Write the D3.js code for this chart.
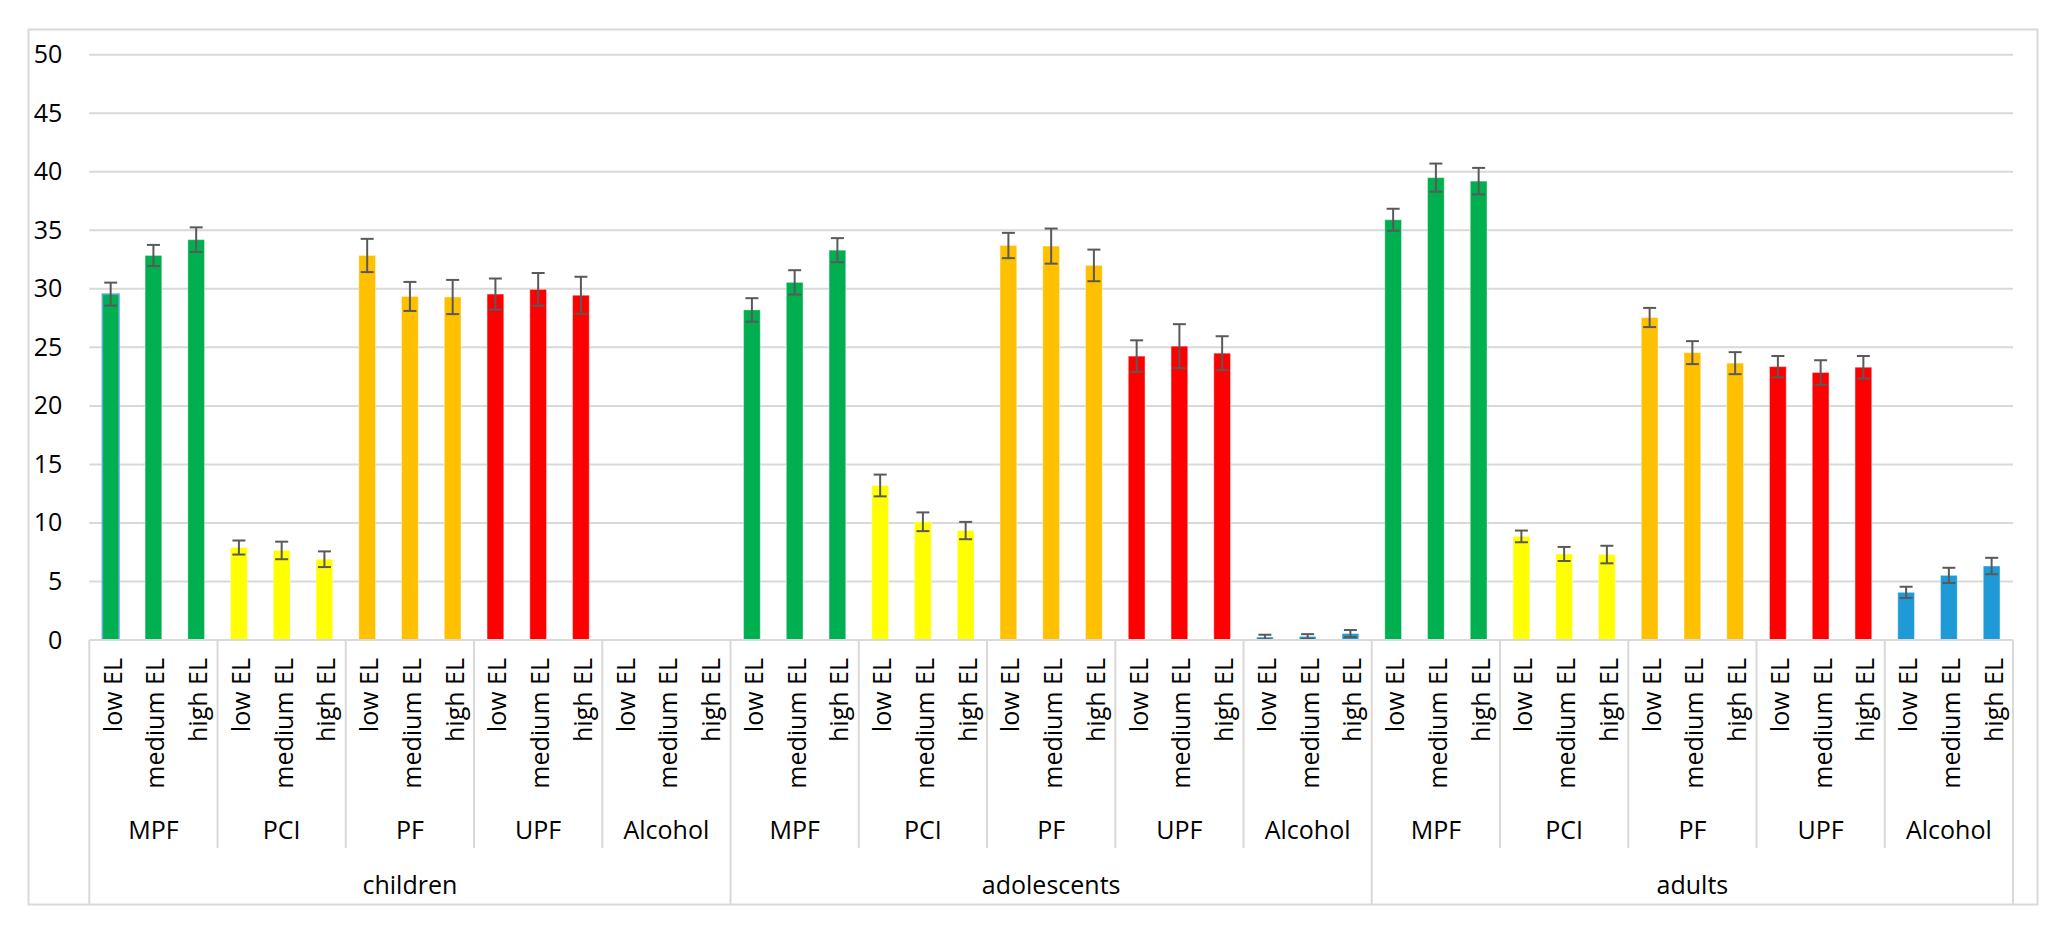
<!DOCTYPE html>
<html>
<head>
<meta charset="utf-8">
<script src="https://cdn.jsdelivr.net/npm/d3@7"></script>
<style>
  html, body { margin: 0; padding: 0; background: #fff; }
  svg text { font-family: 'Open Sans', Lato, sans-serif; fill: #000; }
</style>
</head>
<body>
<svg id="chart" width="2067" height="930"></svg>
<script>
// chart data
const groups = ['children', 'adolescents', 'adults']
const foods = ['MPF', 'PCI', 'PF', 'UPF', 'Alcohol']
const levels = ['low EL', 'medium EL', 'high EL']
const yTicks = [0, 5, 10, 15, 20, 25, 30, 35, 40, 45, 50]

// means, in food order, 3 levels each
const childrenMean = [29.55, 32.85, 34.2, 7.9, 7.65, 6.9, 32.85, 29.35, 29.3, 29.55, 29.95, 29.45, 0, 0, 0]
const childrenErr = [0.98, 0.9, 1.05, 0.6, 0.75, 0.67, 1.42, 1.24, 1.46, 1.33, 1.4, 1.58, 0, 0, 0]
const adolescentsMean = [28.2, 30.55, 33.3, 13.2, 10.1, 9.35, 33.7, 33.65, 32.0, 24.25, 25.1, 24.5, 0.25, 0.3, 0.55]
const adolescentsErr = [1.0, 1.04, 1.03, 0.93, 0.8, 0.74, 1.08, 1.5, 1.35, 1.35, 1.88, 1.45, 0.2, 0.2, 0.3]
const adultsMean = [35.9, 39.5, 39.2, 8.85, 7.35, 7.3, 27.55, 24.55, 23.65, 23.35, 22.85, 23.3, 4.07, 5.52, 6.32]
const adultsErr = [0.94, 1.2, 1.13, 0.5, 0.6, 0.75, 0.82, 0.98, 0.94, 0.91, 1.05, 0.96, 0.48, 0.65, 0.7]

const foodColors = ['#00B050', '#FFFF00', '#FFC000', '#FF0000', '#1E9BD7']

const meansByGroup = [childrenMean, adolescentsMean, adultsMean]
const errByGroup = [childrenErr, adolescentsErr, adultsErr]

const rows = []
groups.forEach((g, gi) => {
  foods.forEach((f, fi) => {
    levels.forEach((l, li) => {
      const k = fi * 3 + li
      rows.push({
        key: g + '|' + f + '|' + l,
        group: g,
        food: f,
        level: l,
        mean: meansByGroup[gi][k],
        err: errByGroup[gi][k],
      })
    })
  })
})

const left = 89.3
const right = 2013
const axisY = 640
const bottom = 904
const fontSize = 25

const svg = d3.select('#chart')

// outer frame
svg.append('rect')
  .attr('x', 28.5).attr('y', 29.5)
  .attr('width', 2009).attr('height', 875)
  .attr('fill', '#fff')
  .attr('stroke', '#D9D9D9')
  .attr('stroke-width', 2)

const x = d3.scaleBand()
  .domain(rows.map((d) => d.key))
  .range([left, right])
  .paddingInner(0.61)
  .paddingOuter(0.305)

const y = d3.scaleLinear().domain([0, 50]).range([axisY, 54.7])

const color = d3.scaleOrdinal().domain(foods).range(foodColors)

// gridlines
svg.append('g')
  .selectAll('line')
  .data(yTicks.filter((t) => t > 0))
  .enter()
  .append('line')
  .attr('x1', left)
  .attr('x2', right)
  .attr('y1', (d) => y(d))
  .attr('y2', (d) => y(d))
  .attr('stroke', '#D9D9D9')
  .attr('stroke-width', 2)

// y axis labels
const yAxis = d3.axisLeft(y).tickValues(yTicks).tickSize(0).tickPadding(27)
const yg = svg.append('g').attr('transform', `translate(${left},0)`).call(yAxis)
yg.select('.domain').remove()
yg.selectAll('text')
  .attr('font-size', fontSize)
  .attr('font-family', "'Open Sans', Lato, sans-serif")
  .attr('fill', '#000')

// bars
const step = x.step()
svg.append('g')
  .selectAll('rect')
  .data(rows)
  .enter()
  .append('rect')
  .attr('x', (d) => x(d.key))
  .attr('width', x.bandwidth())
  .attr('y', (d) => y(d.mean))
  .attr('height', (d) => y(0) - y(d.mean))
  .attr('fill', (d) => color(d.food))
  .attr('stroke', (d, i) => (i === 0 ? '#5DA9E0' : 'rgba(255,255,255,0.35)'))
  .attr('stroke-width', (d, i) => (i === 0 ? 1.5 : 1))

// error bars
const eb = svg.append('g')
  .selectAll('g')
  .data(rows.filter((d) => d.err > 0))
  .enter()
  .append('g')
  .attr('stroke', '#595959')
  .attr('stroke-width', 2)
eb.append('line')
  .attr('x1', (d) => x(d.key) + x.bandwidth() / 2)
  .attr('x2', (d) => x(d.key) + x.bandwidth() / 2)
  .attr('y1', (d) => y(d.mean + d.err))
  .attr('y2', (d) => y(d.mean - d.err))
eb.selectAll('.cap')
  .data((d) => [
    { c: x(d.key) + x.bandwidth() / 2, v: d.mean + d.err },
    { c: x(d.key) + x.bandwidth() / 2, v: d.mean - d.err },
  ])
  .enter()
  .append('line')
  .attr('class', 'cap')
  .attr('x1', (d) => d.c - 6.5)
  .attr('x2', (d) => d.c + 6.5)
  .attr('y1', (d) => y(d.v))
  .attr('y2', (d) => y(d.v))

// category axis line
svg.append('line')
  .attr('x1', left).attr('x2', right)
  .attr('y1', axisY).attr('y2', axisY)
  .attr('stroke', '#D9D9D9').attr('stroke-width', 2)

// separators: food groups (short) and age groups (full)
const foodBounds = []
groups.forEach((g, gi) => {
  foods.forEach((f, fi) => {
    if (fi > 0) foodBounds.push(x(g + '|' + f + '|' + levels[0]) - (step - x.bandwidth()) / 2)
  })
})
const groupBounds = [left, right]
groups.forEach((g, gi) => {
  if (gi > 0) groupBounds.push(x(g + '|' + foods[0] + '|' + levels[0]) - (step - x.bandwidth()) / 2)
})

svg.append('g')
  .selectAll('line')
  .data(foodBounds)
  .enter()
  .append('line')
  .attr('x1', (d) => d).attr('x2', (d) => d)
  .attr('y1', axisY).attr('y2', 848)
  .attr('stroke', '#D9D9D9').attr('stroke-width', 2)

svg.append('g')
  .selectAll('line')
  .data(groupBounds)
  .enter()
  .append('line')
  .attr('x1', (d) => d).attr('x2', (d) => d)
  .attr('y1', axisY).attr('y2', bottom)
  .attr('stroke', '#D9D9D9').attr('stroke-width', 2)

// level labels (rotated)
svg.append('g')
  .selectAll('text')
  .data(rows)
  .enter()
  .append('text')
  .attr('transform', (d) => `translate(${x(d.key) + x.bandwidth() / 2 + 1},658) rotate(-90)`)
  .attr('text-anchor', 'end')
  .attr('dominant-baseline', 'central')
  .attr('font-size', fontSize)
  .text((d) => d.level)

// food labels
const foodLabels = []
groups.forEach((g) => {
  foods.forEach((f) => {
    const a = x(g + '|' + f + '|' + levels[0])
    const b = x(g + '|' + f + '|' + levels[2]) + x.bandwidth()
    foodLabels.push({ text: f, cx: (a + b) / 2 })
  })
})
svg.append('g')
  .selectAll('text')
  .data(foodLabels)
  .enter()
  .append('text')
  .attr('x', (d) => d.cx)
  .attr('y', 839)
  .attr('text-anchor', 'middle')
  .attr('font-size', fontSize)
  .text((d) => d.text)

// age group labels
svg.append('g')
  .selectAll('text')
  .data(groups)
  .enter()
  .append('text')
  .attr('x', (g) => {
    const a = x(g + '|' + foods[0] + '|' + levels[0])
    const b = x(g + '|' + foods[4] + '|' + levels[2]) + x.bandwidth()
    return (a + b) / 2
  })
  .attr('y', 894)
  .attr('text-anchor', 'middle')
  .attr('font-size', fontSize)
  .text((g) => g)
</script>
</body>
</html>
